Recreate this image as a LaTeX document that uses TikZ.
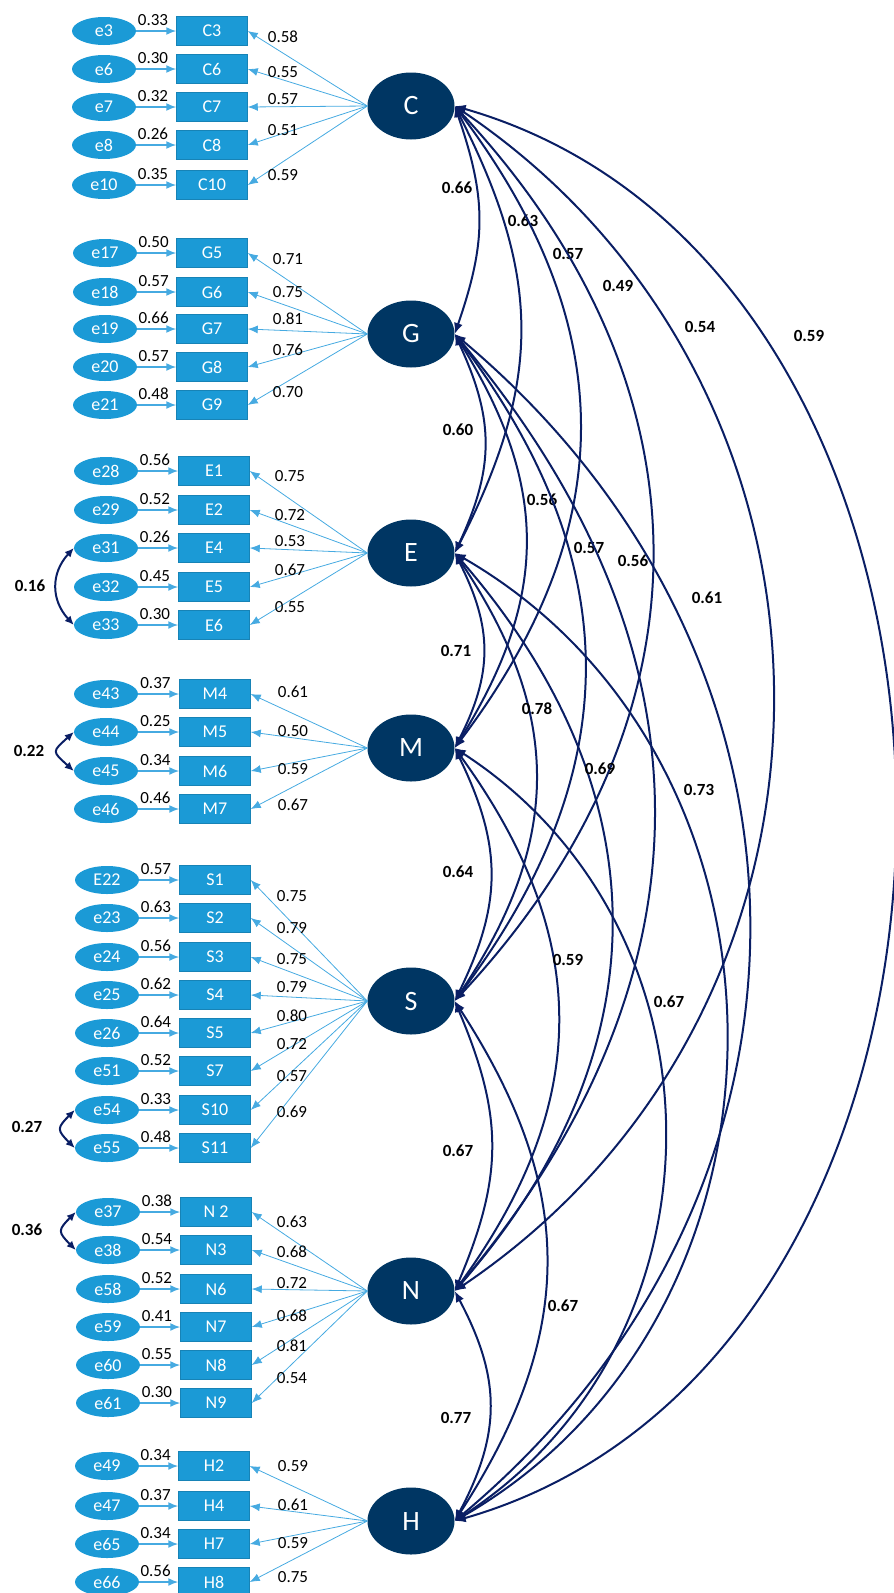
\documentclass[tikz,border=0pt]{standalone}
\usepackage{fontspec}
\setmainfont{Carlito}
\usetikzlibrary{shapes.geometric,arrows.meta}
\definecolor{latfill}{RGB}{0,54,99}
\definecolor{indfill}{RGB}{27,154,214}
\definecolor{loadcol}{RGB}{70,170,225}
\definecolor{covcol}{RGB}{10,30,100}
\newcommand\mkind[8]{%
  \node[ind] (#2) at (\grpbx,-#4) {#3};
  \node[err] (#5) at (\grpex,-#4) {#5};
  \draw[errarr] (#5) -- node[lab, above=4pt, pos=0.42] (v#5) {#6} (#2);
  \draw[load] (#1.west) -- (#2.east);
  \node[lab] (w#2) at (\grplx,-#8) {#7};
}
\begin{document}
\begin{tikzpicture}[x=1pt,y=1pt,
 lat/.style={ellipse, fill=latfill, minimum width=87pt, minimum height=67pt, inner sep=0pt, text=white, font=\fontsize{28}{30}\selectfont},
 ind/.style={rectangle, fill=indfill, draw=indfill!85!black, line width=0.5pt, minimum width=71pt, minimum height=29pt, inner sep=0pt, text=white, font=\fontsize{18}{20}\selectfont},
 err/.style={ellipse, fill=indfill, minimum width=64pt, minimum height=28pt, inner sep=0pt, text=white, font=\fontsize{18}{20}\selectfont},
 errarr/.style={draw=loadcol, line width=1.5pt, -{Latex[length=10pt,width=8pt]}},
 load/.style={draw=loadcol, line width=0.8pt, -{Latex[length=10pt,width=8pt]}},
 cov/.style={draw=covcol, line width=2pt, {Latex[length=11pt,width=9pt]}-{Latex[length=11pt,width=9pt]}},
 ecov/.style={draw=covcol, line width=2pt, {Latex[length=9pt,width=8pt]}-{Latex[length=9pt,width=8pt]}},
 lab/.style={font=\fontsize{17}{19}\selectfont, inner sep=1pt},
 blab/.style={font=\bfseries\fontsize{17}{19}\selectfont, inner sep=1pt},
]
\useasboundingbox (0,0) rectangle (894,-1593);

% latent variables
\node[lat] (C) at (411,-106) {C};
\node[lat] (G) at (411,-334) {G};
\node[lat] (E) at (411,-553) {E};
\node[lat] (M) at (411,-748) {M};
\node[lat] (S) at (411,-1001) {S};
\node[lat] (N) at (411,-1291) {N};
\node[lat] (H) at (411,-1521) {H};

% C group
\def\grpbx{212}\def\grpex{104}\def\grplx{283}
\mkind{C}{C3}{C3}{31}{e3}{0.33}{0.58}{37}
\mkind{C}{C6}{C6}{69}{e6}{0.30}{0.55}{72}
\mkind{C}{C7}{C7}{107}{e7}{0.32}{0.57}{99}
\mkind{C}{C8}{C8}{145}{e8}{0.26}{0.51}{130}
\mkind{C}{C10}{C10}{185}{e10}{0.35}{0.59}{175}

% G group
\def\grpbx{212}\def\grpex{105}\def\grplx{288}
\mkind{G}{G5}{G5}{253}{e17}{0.50}{0.71}{259}
\mkind{G}{G6}{G6}{292}{e18}{0.57}{0.75}{292}
\mkind{G}{G7}{G7}{329}{e19}{0.66}{0.81}{319}
\mkind{G}{G8}{G8}{367}{e20}{0.57}{0.76}{350}
\mkind{G}{G9}{G9}{405}{e21}{0.48}{0.70}{392}

% E group
\def\grpbx{214}\def\grpex{106}\def\grplx{290}
\mkind{E}{E1}{E1}{471}{e28}{0.56}{0.75}{476}
\mkind{E}{E2}{E2}{510}{e29}{0.52}{0.72}{515}
\mkind{E}{E4}{E4}{548}{e31}{0.26}{0.53}{541}
\mkind{E}{E5}{E5}{587}{e32}{0.45}{0.67}{570}
\mkind{E}{E6}{E6}{625}{e33}{0.30}{0.55}{607}

% M group
\def\grpbx{215}\def\grpex{106}\def\grplx{293}
\mkind{M}{M4}{M4}{694}{e43}{0.37}{0.61}{692}
\mkind{M}{M5}{M5}{732}{e44}{0.25}{0.50}{731}
\mkind{M}{M6}{M6}{771}{e45}{0.34}{0.59}{769}
\mkind{M}{M7}{M7}{809}{e46}{0.46}{0.67}{805}

% S group
\def\grpbx{215}\def\grpex{107}\def\grplx{292}
\mkind{S}{S1}{S1}{880}{E22}{0.57}{0.75}{896}
\mkind{S}{S2}{S2}{918}{e23}{0.63}{0.79}{928}
\mkind{S}{S3}{S3}{957}{e24}{0.56}{0.75}{959}
\mkind{S}{S4}{S4}{995}{e25}{0.62}{0.79}{987}
\mkind{S}{S5}{S5}{1033}{e26}{0.64}{0.80}{1016}
\mkind{S}{S7}{S7}{1071}{e51}{0.52}{0.72}{1044}
\mkind{S}{S10}{S10}{1110}{e54}{0.33}{0.57}{1076}
\mkind{S}{S11}{S11}{1148}{e55}{0.48}{0.69}{1112}

% N group
\def\grpbx{216}\def\grpex{108}\def\grplx{292}
\mkind{N}{N2}{N 2}{1212}{e37}{0.38}{0.63}{1222}
\mkind{N}{N3}{N3}{1250}{e38}{0.54}{0.68}{1252}
\mkind{N}{N6}{N6}{1289}{e58}{0.52}{0.72}{1283}
\mkind{N}{N7}{N7}{1327}{e59}{0.41}{0.68}{1316}
\mkind{N}{N8}{N8}{1365}{e60}{0.55}{0.81}{1346}
\mkind{N}{N9}{N9}{1403}{e61}{0.30}{0.54}{1378}

% H group
\def\grpbx{214}\def\grpex{107}\def\grplx{293}
\mkind{H}{H2}{H2}{1466}{e49}{0.34}{0.59}{1466}
\mkind{H}{H4}{H4}{1506}{e47}{0.37}{0.61}{1505}
\mkind{H}{H7}{H7}{1544}{e65}{0.34}{0.59}{1543}
\mkind{H}{H8}{H8}{1582}{e66}{0.56}{0.75}{1577}

% error covariances
\draw[ecov] (e31.west) .. controls +(-23,-25) and +(-23,25) .. (e33.west);
\node[blab] (c1) at (30,-586) {0.16};
\draw[ecov] (e44.west) .. controls +(-22,-20) and +(-22,20) .. (e45.west);
\node[blab] (c2) at (29,-751) {0.22};
\draw[ecov] (e54.west) .. controls +(-18,-18) and +(-18,18) .. (e55.west);
\node[blab] (c3) at (27,-1127) {0.27};
\draw[ecov] (e37.west) .. controls +(-18,-18) and +(-18,18) .. (e38.west);
\node[blab] (c4) at (27,-1230) {0.36};

% latent correlations
\foreach \a/\b/\d/\t/\v/\lx/\ly in {
  C/G/228/19/0.66/457/188, C/E/447/27/0.63/523/221, C/M/642/37/0.57/568/254,
  C/S/895/43/0.49/618/286, C/N/1185/56/0.54/700/327, C/H/1415/74/0.59/809/336,
  G/E/219/25/0.60/458/430, G/M/414/32/0.56/542/500, G/S/667/37/0.57/589/548,
  G/N/957/40/0.56/633/561, G/H/1187/50/0.61/707/598,
  E/M/195/27/0.71/456/651, E/S/448/34/0.78/537/709, E/N/738/41/0.69/600/769,
  E/H/968/60/0.73/699/790,
  M/S/253/26/0.64/458/872, M/N/543/36/0.59/568/960, M/H/773/57/0.67/669/1002,
  S/N/290/23/0.67/458/1151, S/H/520/33/0.67/563/1306,
  N/H/230/28/0.77/456/1418}{
  \pgfmathsetmacro\hh{0.4307*\d*sin(\t)}
  \pgfmathsetmacro\kk{0.4307*\d*cos(\t)}
  \draw[cov] (\a.east) .. controls +(\hh,-\kk) and +(\hh,\kk) .. (\b.east);
  \node[blab] (r\a\b) at (\lx,-\ly) {\v};
}
\end{tikzpicture}
\end{document}
